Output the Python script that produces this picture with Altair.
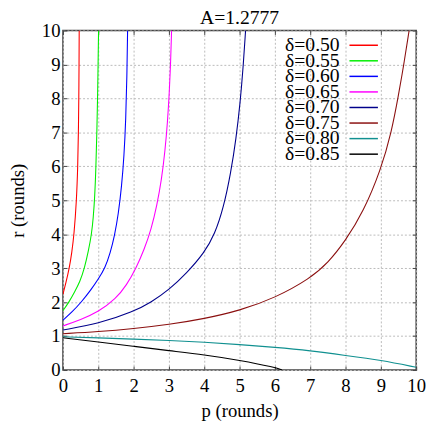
import altair as alt
import pandas as pd

labels = ["δ=0.50", "δ=0.55", "δ=0.60", "δ=0.65", "δ=0.70", "δ=0.75", "δ=0.80", "δ=0.85"]
colors = ["#ff0000", "#00ee00", "#0000ff", "#ff00ff", "#00008b", "#8b1010", "#109090", "#000000"]

p_050 = [0, 0.08, 0.18, 0.25, 0.315, 0.385, 0.42, 0.438, 0.449, 0.456, 0.46]
r_050 = [2.23, 2.55, 3.0, 3.45, 4.0, 5.0, 6.0, 7.0, 8.0, 9.0, 10.0]

p_055 = [0, 0.17, 0.33, 0.48, 0.61, 0.72, 0.81, 0.86, 0.90, 0.935, 0.96, 0.98, 0.995, 1.008]
r_055 = [1.75, 2.0, 2.3, 2.6, 3.0, 3.5, 4.0, 4.5, 5.1, 6.0, 7.0, 8.0, 9.0, 10.0]

p_060 = [0, 0.25, 0.52, 0.80, 1.0, 1.19, 1.34, 1.46, 1.57, 1.66, 1.73, 1.78, 1.81, 1.83]
r_060 = [1.47, 1.70, 2.0, 2.37, 2.68, 3.0, 3.45, 3.95, 4.6, 5.4, 6.3, 7.4, 8.6, 10.0]

p_065 = [0, 0.5, 1.0, 1.5, 1.8, 2.07, 2.3, 2.5, 2.66, 2.79, 2.89, 2.96, 3.01, 3.05, 3.075]
r_065 = [1.30, 1.48, 1.71, 2.1, 2.5, 3.0, 3.55, 4.15, 4.85, 5.6, 6.45, 7.3, 8.15, 9.1, 10.0]

p_070 = [0, 1, 2, 2.5, 3, 3.5, 4, 4.3, 4.55, 4.75, 4.9, 5.02, 5.1, 5.17]
r_070 = [1.18, 1.36, 1.72, 2.0, 2.36, 2.85, 3.45, 4.0, 4.8, 5.8, 6.8, 7.9, 8.9, 10.0]

p_075 = [0, 1, 2, 3, 4, 5, 6, 7, 7.5, 8, 8.5, 9, 9.3, 9.5, 9.65, 9.8]
r_075 = [1.07, 1.13, 1.22, 1.34, 1.51, 1.75, 2.12, 2.70, 3.15, 3.81, 4.65, 5.9, 7.0, 8.1, 9.0, 10.0]

p_080 = [0, 1, 2, 3, 4, 5, 6, 7, 8, 9, 10]
r_080 = [0.98, 0.95, 0.91, 0.87, 0.82, 0.75, 0.67, 0.57, 0.43, 0.29, 0.08]

p_085 = [0, 1, 2, 3, 4, 5, 6, 6.2]
r_085 = [0.95, 0.83, 0.70, 0.57, 0.45, 0.29, 0.08, 0.0]

tick_values = [0, 1, 2, 3, 4, 5, 6, 7, 8, 9, 10]

series = [(p_050, r_050), (p_055, r_055), (p_060, r_060), (p_065, r_065),
          (p_070, r_070), (p_075, r_075), (p_080, r_080), (p_085, r_085)]
rows = []
for lab, (ps, rs) in zip(labels, series):
    for i, (pv, rv) in enumerate(zip(ps, rs)):
        rows.append({"delta": lab, "p": pv, "r": rv, "i": i})
df = pd.DataFrame(rows)
legend_df = pd.DataFrame({"delta": labels})

FONT = "Liberation Serif, Times New Roman, serif"
xscale = alt.Scale(domain=[0, 10], nice=False, zero=False)
yscale = alt.Scale(domain=[0, 10], nice=False, zero=False)
cscale = alt.Scale(domain=labels, range=colors)
legend_rows = alt.Scale(type="point", domain=labels, range=[15, 126], padding=0)

main = alt.Chart(df).mark_line(interpolate="basis", strokeWidth=1.1, clip=True).encode(
    x=alt.X("p:Q", scale=xscale,
            axis=alt.Axis(orient="bottom", values=tick_values, grid=True, domain=False,
                          offset=-4, tickSize=4, labelPadding=7, labelFlush=False,
                          title="p (rounds)", titlePadding=6)),
    y=alt.Y("r:Q", scale=yscale,
            axis=alt.Axis(orient="left", values=tick_values, grid=True, domain=False,
                          offset=-4, tickSize=4, labelPadding=3, labelFlush=False,
                          title="r (rounds)", titlePadding=14)),
    color=alt.Color("delta:N", scale=cscale, legend=None),
    order="i:Q",
)

mirror = alt.Chart(df).mark_line(opacity=0).encode(
    x=alt.X("p:Q", scale=xscale,
            axis=alt.Axis(orient="top", values=tick_values, grid=False, domain=False,
                          labels=False, offset=-4, tickSize=4, title=None)),
    y=alt.Y("r:Q", scale=yscale,
            axis=alt.Axis(orient="right", values=tick_values, grid=False, domain=False,
                          labels=False, offset=-4, tickSize=4, title=None)),
    detail="delta:N",
)

legend_text = alt.Chart(legend_df).mark_text(
    align="right", baseline="middle", font=FONT, fontSize=20, color="black"
).encode(
    text="delta:N",
    x=alt.value(282),
    y=alt.Y("delta:N", scale=legend_rows, axis=None),
)

legend_line = alt.Chart(legend_df).mark_rule(strokeWidth=1.5).encode(
    x=alt.value(292), x2=alt.value(321),
    y=alt.Y("delta:N", scale=legend_rows, axis=None),
    color=alt.Color("delta:N", scale=cscale, legend=None),
)

chart = alt.layer(main, mirror, legend_text, legend_line).resolve_axis(
    x="independent", y="independent"
).resolve_scale(y="independent").properties(
    width=360, height=346,
    title=alt.Title("A=1.2777", font=FONT, fontSize=20, fontWeight="normal", color="black",
                    offset=-22, baseline="alphabetic"),
    autosize=alt.AutoSizeParams(type="none"),
    padding={"left": 56, "top": 19, "right": 10, "bottom": 49},
).configure_view(stroke="#444444", strokeWidth=1.5).configure_axis(
    labelFont=FONT, labelFontSize=19, labelColor="black",
    titleFont=FONT, titleFontSize=19, titleFontWeight="normal", titleColor="black",
    tickColor="#444444", tickWidth=1,
    gridColor="#bbbbbb", gridDash=[2, 2], gridWidth=1,
)

chart.save("out.html", embed_options={"renderer": "svg", "actions": False})
